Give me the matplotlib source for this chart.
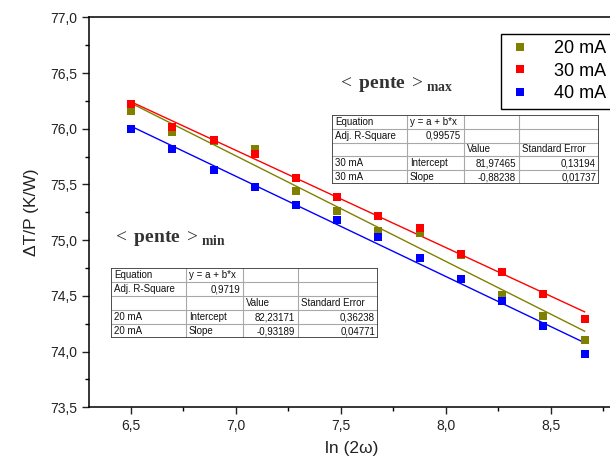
import numpy as np
import matplotlib.pyplot as plt
from matplotlib.lines import Line2D
from matplotlib.patches import Rectangle
from matplotlib.ticker import MultipleLocator, FuncFormatter

plt.rcParams["font.family"] = ["Liberation Sans", "DejaVu Sans"]
plt.rcParams["mathtext.fontset"] = "custom"
plt.rcParams["mathtext.rm"] = "Liberation Serif"
plt.rcParams["mathtext.bf"] = "Liberation Serif:bold"

# =========================
# DATA
# =========================
ln2w = [6.50, 6.696, 6.893, 7.089, 7.286, 7.482, 7.678, 7.875, 8.071, 8.268, 8.464, 8.66]
r_20mA = [76.16, 75.97, 75.89, 75.815, 75.44, 75.26, 75.08, 75.06, 74.87, 74.51, 74.32, 74.10]
r_30mA = [76.22, 76.02, 75.90, 75.77, 75.56, 75.39, 75.22, 75.11, 74.88, 74.71, 74.52, 74.29]
r_40mA = [76.00, 75.82, 75.63, 75.48, 75.32, 75.18, 75.03, 74.84, 74.65, 74.45, 74.23, 73.98]

series_labels = ["20 mA", "30 mA", "40 mA"]
series_colors = ["#808000", "#ff0000", "#0000ff"]

tab_max = [
    ["Equation", "y = a + b*x", "", ""],
    ["Adj. R-Square", "0,99575", "", ""],
    ["", "", "Value", "Standard Error"],
    ["30 mA", "Intercept", "81,97465", "0,13194"],
    ["30 mA", "Slope", "-0,88238", "0,01737"],
]
tab_min = [
    ["Equation", "y = a + b*x", "", ""],
    ["Adj. R-Square", "0,9719", "", ""],
    ["", "", "Value", "Standard Error"],
    ["20 mA", "Intercept", "82,23171", "0,36238"],
    ["20 mA", "Slope", "-0,93189", "0,04771"],
]

W, H = 610, 468


def is_number(txt):
    try:
        float(txt.replace(",", "."))
        return True
    except ValueError:
        return False


def draw_table(fig, x0, y0, rows, col_w, row_h):
    tw = sum(col_w)
    th = row_h * len(rows)
    tax = fig.add_axes([x0 / W, 1 - (y0 + th) / H, tw / W, th / H])
    tax.set_xlim(0, tw)
    tax.set_ylim(th, 0)
    tax.axis("off")
    tax.add_patch(Rectangle((0, 0), tw, th, facecolor="white", edgecolor="none", zorder=0))
    edges = np.concatenate([[0], np.cumsum(col_w)])
    for i in range(1, len(rows)):
        tax.plot([0, tw], [i * row_h, i * row_h], color="#a8a8a8", lw=0.8)
    for e in edges[1:-1]:
        tax.plot([e, e], [0, th], color="#a8a8a8", lw=0.8)
    tax.add_patch(Rectangle((0, 0), tw, th, facecolor="none", edgecolor="#404040", lw=1.3, zorder=3))
    for i, row in enumerate(rows):
        for j, txt in enumerate(row):
            if not txt:
                continue
            if is_number(txt):
                xx, ha = edges[j + 1] - 3, "right"
            else:
                xx, ha = edges[j] + 3, "left"
            tax.text(xx, (i + 0.5) * row_h, txt, ha=ha, va="center", fontsize=7, color="#111111")


fig = plt.figure(figsize=(W / 100, H / 100), dpi=100)
ax = fig.add_axes([89 / W, 60.7 / H, 525 / W, 390 / H])

x = np.array(ln2w)
all_y = [r_20mA, r_30mA, r_40mA]
for ys, col in zip(all_y, series_colors):
    ys = np.array(ys)
    b, a = np.polyfit(x, ys, 1)
    ax.plot([x[0], x[-1]], [a + b * x[0], a + b * x[-1]], color=col, lw=1.0, zorder=2)
    ax.plot(x, ys, "s", color=col, ms=6.2, mec=col, mew=0, zorder=3)

ax.set_xlim(6.3, 8.8)
ax.set_ylim(73.5, 77.0)
ax.xaxis.set_major_locator(MultipleLocator(0.5))
ax.xaxis.set_minor_locator(MultipleLocator(0.25))
ax.yaxis.set_major_locator(MultipleLocator(0.5))
ax.yaxis.set_minor_locator(MultipleLocator(0.25))
comma = FuncFormatter(lambda v, p: f"{v:.1f}".replace(".", ","))
ax.xaxis.set_major_formatter(comma)
ax.yaxis.set_major_formatter(comma)
ax.tick_params(which="major", direction="out", length=5, width=1, labelsize=10, colors="#222222")
ax.tick_params(which="minor", direction="out", length=3, width=1)
ax.spines["right"].set_visible(False)
for s in ax.spines.values():
    s.set_linewidth(1.1)
ax.set_xlabel("ln (2ω)", fontsize=12.5, color="#222222", labelpad=6)
ax.set_ylabel("ΔT/P (K/W)", fontsize=12.5, color="#222222", labelpad=8)

handles = [Line2D([], [], ls="none", marker="s", color=c, ms=6.2, mew=0) for c in series_colors]
ax.legend(handles, series_labels, loc="upper left", bbox_to_anchor=(492 / W, 1 - 25 / H),
          bbox_transform=fig.transFigure, fancybox=False, edgecolor="black", framealpha=1,
          fontsize=13, handletextpad=1.2, borderpad=0.35, labelspacing=0.3, handlelength=1.4)

fig.text(337 / W, 1 - 85 / H, r"${<}\,\mathbf{pente}\,{>}_{\mathbf{max}}$", fontsize=14,
         color="#333333", va="center", ha="left")
fig.text(112 / W, 1 - 238 / H, r"${<}\,\mathbf{pente}\,{>}_{\mathbf{min}}$", fontsize=14,
         color="#333333", va="center", ha="left")

col_w = [75, 57, 55, 80]
draw_table(fig, 332, 115, tab_max, col_w, 13.8)
draw_table(fig, 111, 268, tab_min, col_w, 14.0)

fig.savefig("out.png", dpi=100)
